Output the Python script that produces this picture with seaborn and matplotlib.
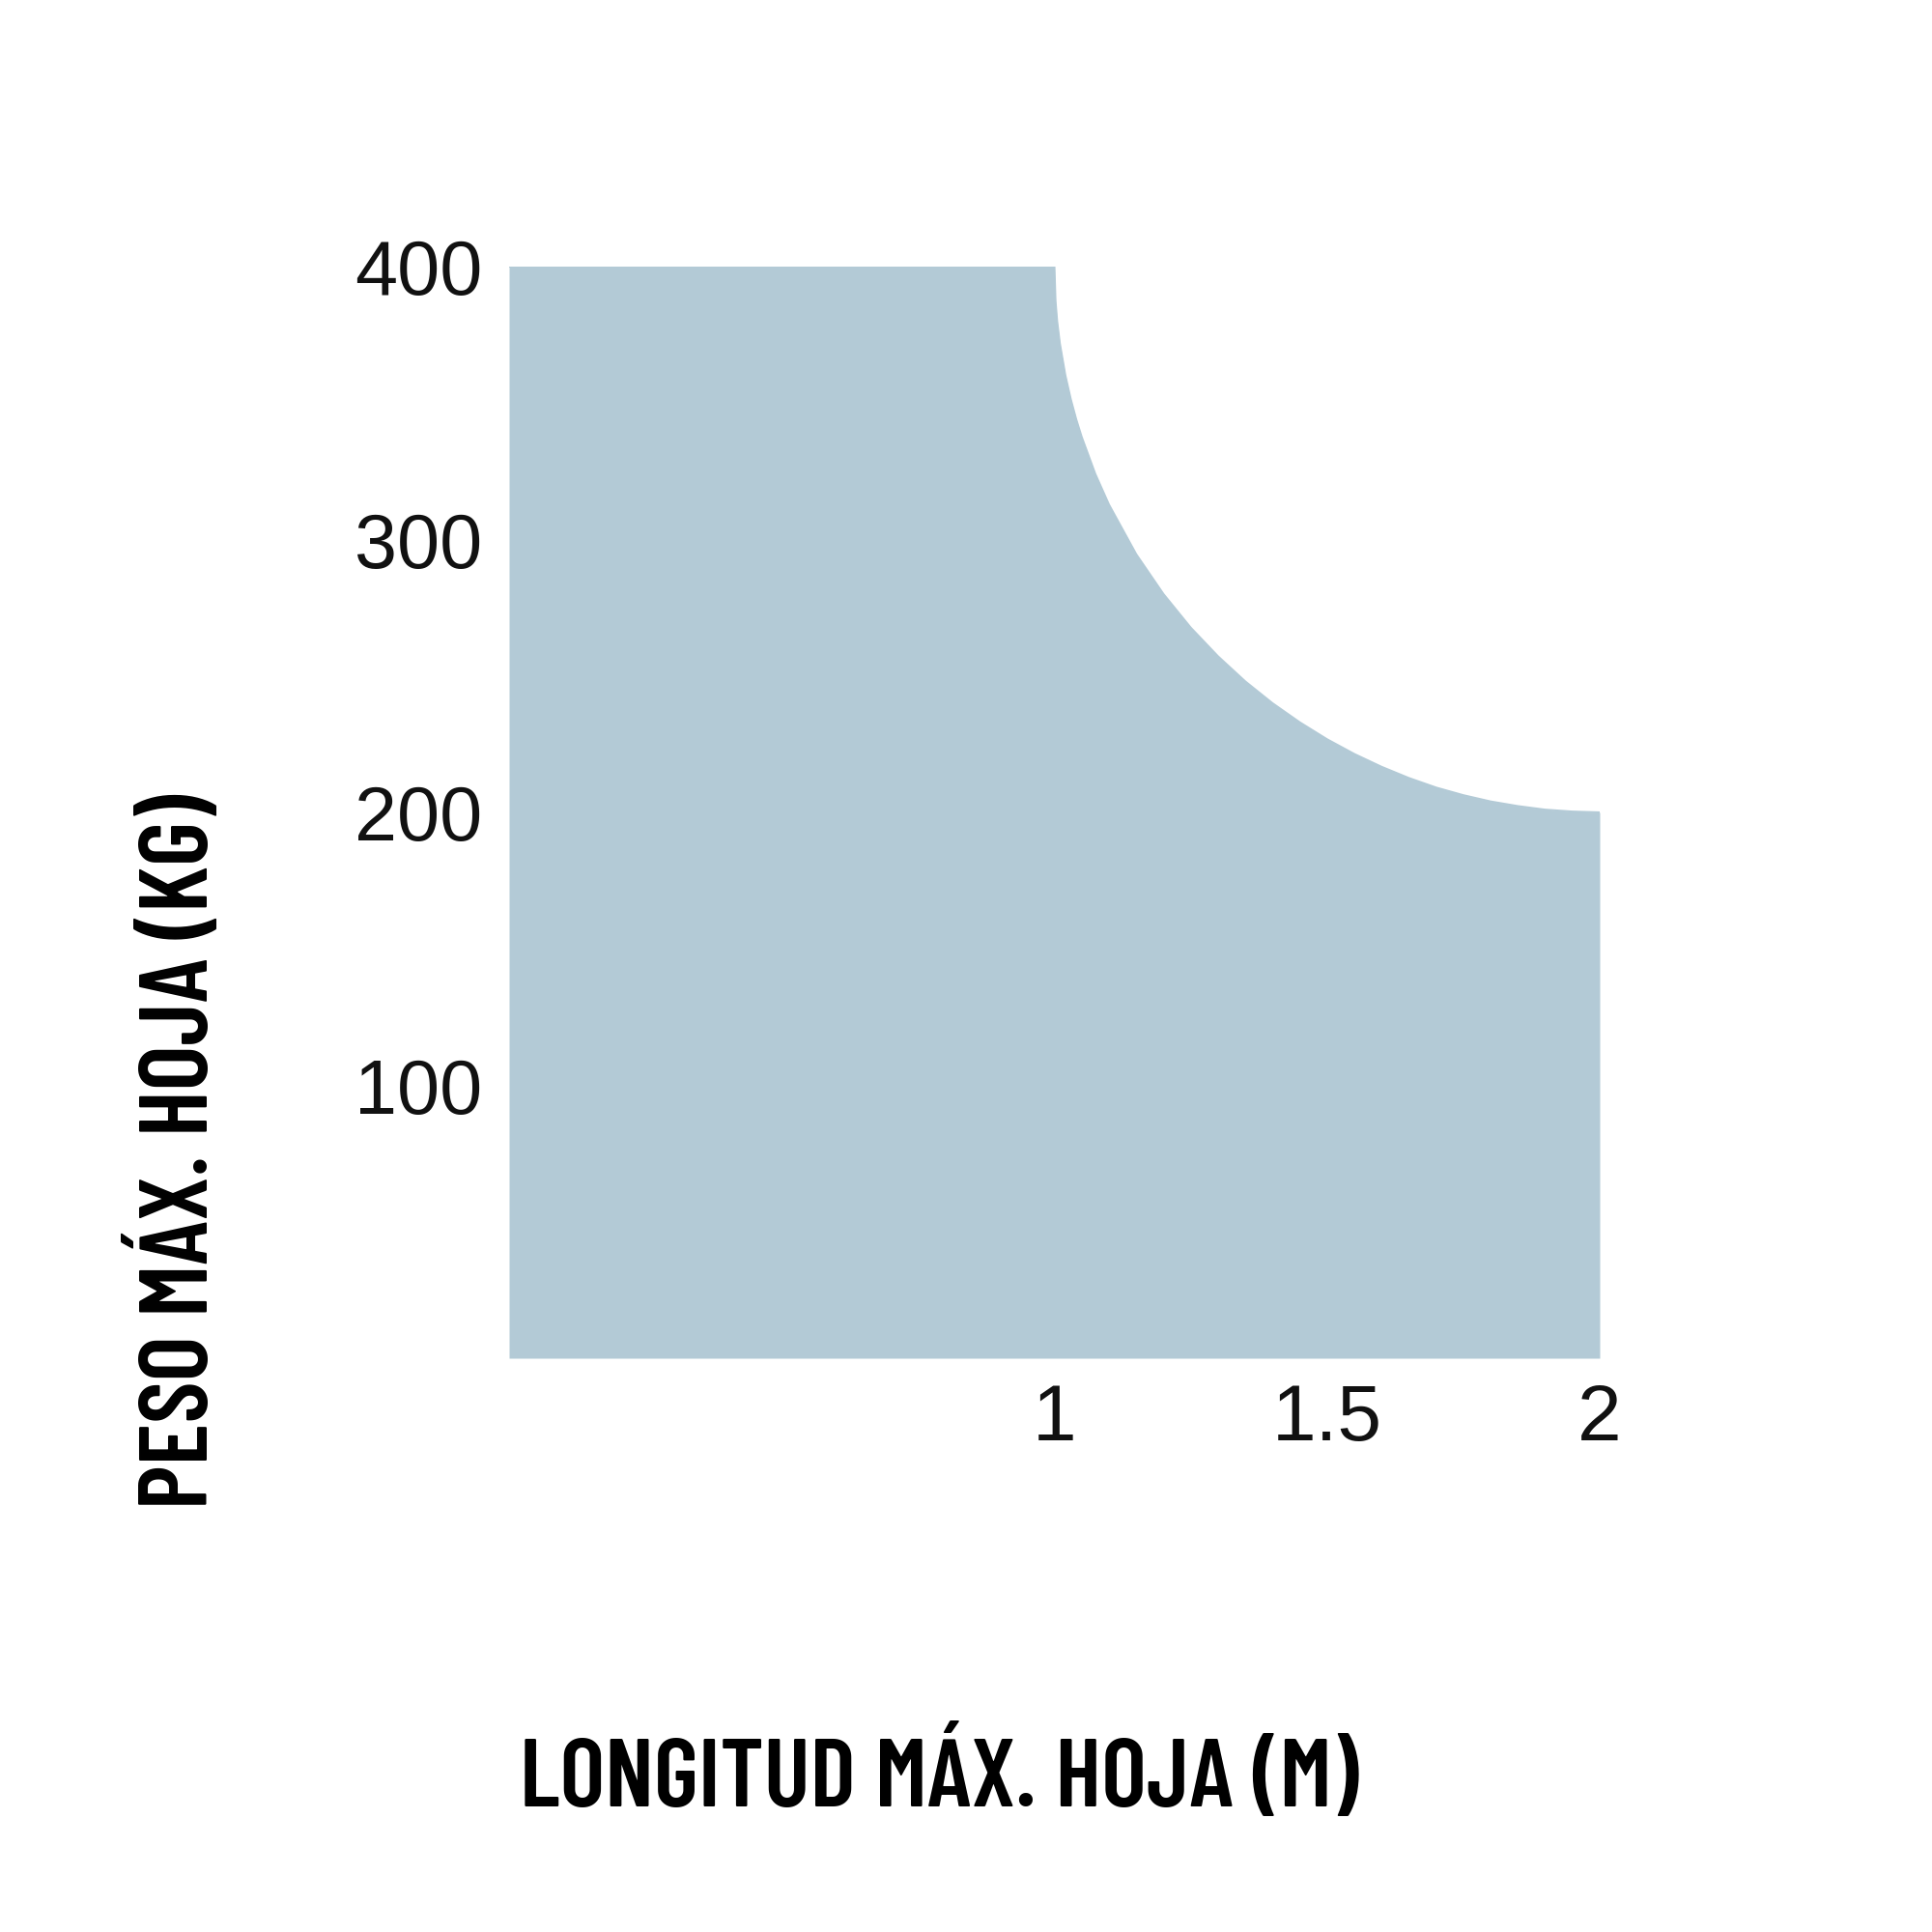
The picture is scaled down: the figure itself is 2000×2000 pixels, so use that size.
#%% packages
import matplotlib
matplotlib.use("Agg")
import matplotlib.pyplot as plt
import seaborn as sns
import pandas as pd

#%% data (longitud en m, peso en kg)
x_flat = [0.0, 0.5, 1.0]
y_flat = [400, 400, 400]
x_curve = [1.002, 1.005, 1.01, 1.02, 1.03, 1.04, 1.05, 1.075, 1.1, 1.15, 1.2, 1.25, 1.3, 1.35,
           1.4, 1.45, 1.5, 1.55, 1.6, 1.65, 1.7, 1.75, 1.8, 1.85, 1.9, 1.95, 2.0]
y_curve = [387.4, 380.0, 371.8, 360.2, 351.4, 344.0, 337.6, 324.0, 312.8, 294.6, 280.0, 267.7, 257.2, 248.0,
           240.0, 233.0, 226.8, 221.4, 216.7, 212.6, 209.1, 206.3, 204.0, 202.3, 201.0, 200.3, 200.0]
x_ticks = [1, 1.5, 2]
x_tick_labels = ["1", "1.5", "2"]
y_ticks = [100, 200, 300, 400]
y_tick_labels = ["100", "200", "300", "400"]
x_label = "LONGITUD MÁX. HOJA (M)"
y_label = "PESO MÁX. HOJA (KG)"

df = pd.DataFrame({"longitud": x_flat + x_curve, "peso": y_flat + y_curve})

#%% plot
sns.set_theme(style="white")
plt.rcParams["font.family"] = ["Liberation Sans", "DejaVu Sans"]
fill_color = "#b3cad6"

fig = plt.figure(figsize=(20, 20), dpi=100)
ax = fig.add_axes([0.2635, 0.297, 0.5645, 0.565])

ax.fill_between(df["longitud"], 0, df["peso"], color=fill_color, linewidth=0)
sns.lineplot(data=df, x="longitud", y="peso", ax=ax, color=fill_color, linewidth=1.5)

ax.set_xlim(0, 2)
ax.set_ylim(0, 400)
sns.despine(ax=ax, left=True, bottom=True)

ax.set_xticks(x_ticks)
ax.set_xticklabels(x_tick_labels, fontsize=59, color="#111111")
ax.set_yticks(y_ticks)
ax.set_yticklabels(y_tick_labels, fontsize=57, color="#111111")
ax.tick_params(axis="x", length=0, pad=19)
ax.tick_params(axis="y", length=0, pad=20)

label_font = dict(fontsize=72, fontweight="semibold", family="Barlow Condensed", color="black")
ax.set_xlabel(x_label, **label_font)
ax.set_ylabel(y_label, **label_font)
ax.xaxis.set_label_coords(0.394, -0.384)
ax.yaxis.set_label_coords(-0.303, 0.189)
ax.xaxis.label.set_va("center")
ax.yaxis.label.set_va("center")

fig.savefig("out.png", dpi=100, facecolor="white")
